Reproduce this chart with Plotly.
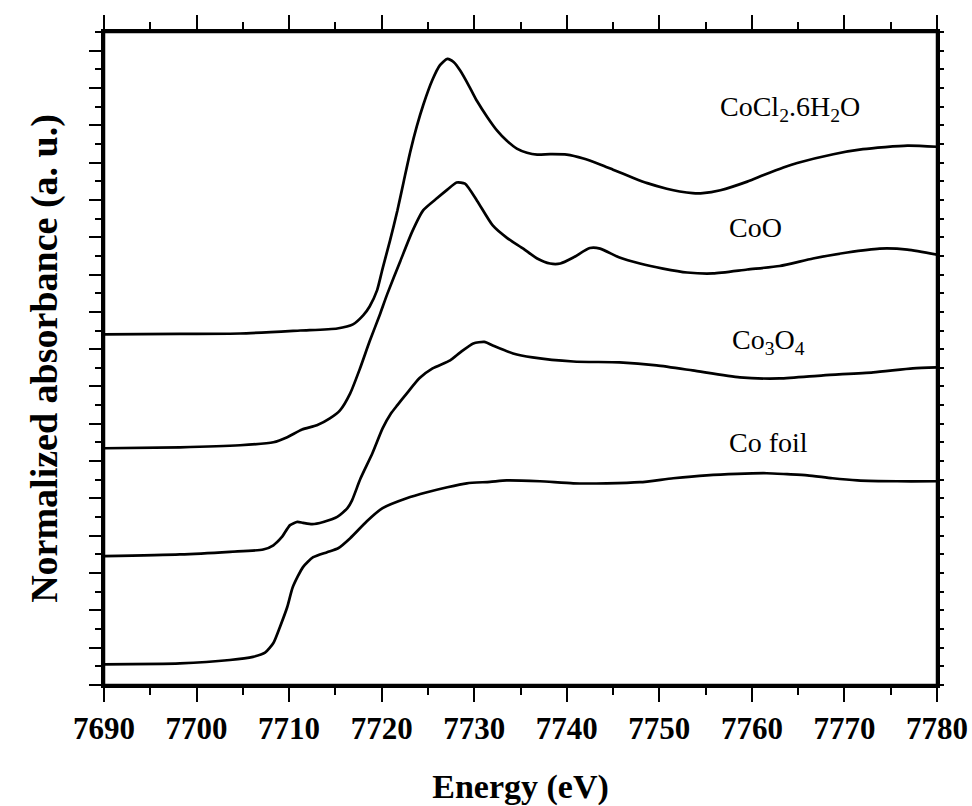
import plotly.graph_objects as go

# ---- data ----
co_foil_e = [7690.0, 7698.2, 7703.6, 7706.1, 7707.4, 7708.3, 7709.0, 7709.8, 7710.4, 7711.5,
             7712.6, 7714.1, 7715.3, 7716.6, 7718.4, 7720.1, 7722.7, 7724.9, 7727.1, 7729.2,
             7731.7, 7733.5, 7737.1, 7740.7, 7744.3, 7747.9, 7751.5, 7755.1, 7758.4, 7761.6,
             7763.8, 7766.0, 7768.7, 7771.4, 7775.7, 7780.0]
co_foil_a = [1.11, 1.16, 1.34, 1.51, 1.73, 2.25, 3.10, 4.18, 5.25, 6.32,
             6.85, 7.12, 7.33, 7.87, 8.78, 9.48, 10.01, 10.33, 10.60, 10.81,
             10.89, 10.97, 10.92, 10.81, 10.81, 10.87, 11.08, 11.24, 11.32, 11.35,
             11.30, 11.24, 11.08, 10.97, 10.92, 10.92]

co3o4_e = [7690.0, 7698.2, 7703.6, 7707.2, 7708.3, 7709.2, 7710.1, 7710.9, 7711.5, 7712.5,
           7713.7, 7715.2, 7716.3, 7716.8, 7717.7, 7719.0, 7720.1, 7721.0, 7721.7, 7722.7,
           7724.1, 7725.5, 7727.4, 7728.5, 7729.9, 7731.1, 7732.0, 7734.2, 7736.3, 7740.7,
           7745.7, 7749.7, 7753.6, 7758.7, 7763.0, 7767.7, 7773.1, 7777.4, 7780.0]
co3o4_a = [6.91, 7.00, 7.14, 7.26, 7.49, 7.92, 8.57, 8.74, 8.69, 8.62,
           8.74, 9.01, 9.48, 9.90, 11.05, 12.42, 13.75, 14.55, 15.00, 15.62,
           16.45, 16.97, 17.40, 17.83, 18.31, 18.39, 18.20, 17.77, 17.56, 17.34,
           17.29, 17.13, 16.86, 16.49, 16.43, 16.60, 16.76, 16.97, 17.02]

coo_e = [7690.0, 7698.2, 7704.7, 7708.3, 7709.8, 7711.4, 7713.0, 7714.4, 7715.5, 7716.6,
         7717.7, 7718.7, 7719.8, 7720.6, 7722.0, 7723.3, 7724.5, 7726.0, 7727.1, 7728.1,
         7729.0, 7730.3, 7732.0, 7733.5, 7735.3, 7736.8, 7738.2, 7739.3, 7740.7, 7742.5,
         7743.6, 7745.7, 7747.9, 7750.4, 7753.0, 7755.8, 7759.5, 7763.0, 7766.6, 7770.3,
         7773.8, 7776.8, 7780.0]
coo_a = [12.69, 12.74, 12.85, 13.01, 13.28, 13.70, 13.92, 14.29, 14.72, 15.63,
         17.02, 18.42, 19.85, 20.95, 22.70, 24.30, 25.45, 26.10, 26.55, 26.93,
         26.87, 25.96, 24.63, 23.98, 23.39, 22.86, 22.59, 22.59, 22.91, 23.42,
         23.39, 22.91, 22.59, 22.32, 22.11, 22.06, 22.27, 22.46, 22.86, 23.18,
         23.39, 23.34, 23.07]

cocl2_e = [7690.0, 7698.2, 7704.7, 7711.2, 7715.2, 7716.9, 7718.0, 7718.7, 7719.5, 7720.1,
           7720.9, 7721.7, 7722.4, 7723.1, 7723.8, 7724.5, 7725.5, 7726.3, 7727.1,
           7727.8, 7728.5, 7729.5, 7730.3, 7731.4, 7732.5, 7733.5, 7734.6, 7735.7, 7736.8,
           7738.2, 7740.0, 7741.8, 7743.6, 7745.0, 7747.2, 7748.7, 7750.8, 7752.2, 7753.6,
           7754.7, 7756.6, 7759.5, 7761.2, 7763.4, 7764.9, 7768.8, 7772.0, 7776.8, 7780.0]
cocl2_a = [18.79, 18.82, 18.84, 19.00, 19.11, 19.33, 19.81, 20.29, 21.15, 22.32,
           23.82, 25.43, 27.03, 28.60, 29.95, 31.10, 32.45, 33.22, 33.56,
           33.38, 32.92, 32.05, 31.30, 30.45, 29.70, 29.18, 28.75, 28.53, 28.43,
           28.45, 28.43, 28.22, 27.90, 27.62, 27.18, 26.90, 26.60, 26.45, 26.36,
           26.36, 26.52, 26.98, 27.32, 27.74, 27.98, 28.45, 28.72, 28.91, 28.85]

series_names = ["Co foil", "Co<sub>3</sub>O<sub>4</sub>", "CoO", "CoCl<sub>2</sub>.6H<sub>2</sub>O"]
series_e = [co_foil_e, co3o4_e, coo_e, cocl2_e]
series_a = [co_foil_a, co3o4_a, coo_a, cocl2_a]

# label anchor positions (energy, absorbance)
label_e = [7757.3, 7757.6, 7757.3, 7756.3]
label_a = [13.0, 18.4, 24.5, 30.9]

x_range = [7690, 7780]
y_range = [0, 35]

SERIF = "Liberation Serif, Times New Roman, serif"

fig = go.Figure()
for e, a, n in zip(series_e, series_a, series_names):
    fig.add_trace(go.Scatter(x=e, y=a, mode="lines", name=n, showlegend=False,
                             line=dict(color="black", width=2.7, shape="spline", smoothing=0.6)))

# empty trace to activate the mirrored top/right axes
fig.add_trace(go.Scatter(x=[], y=[], xaxis="x2", yaxis="y2", showlegend=False, hoverinfo="skip"))

for e, a, n in zip(label_e, label_a, series_names):
    fig.add_annotation(x=e, y=a, text=n, showarrow=False, xanchor="left", yanchor="middle",
                       font=dict(family=SERIF, size=28, color="black"))

# frame around the plotting area
fig.add_shape(type="rect", xref="x domain", yref="y domain", x0=0, x1=1, y0=0, y1=1,
              line=dict(color="black", width=2.5), layer="above")

common_x = dict(range=x_range, showgrid=False, zeroline=False, showline=True, mirror=True,
                automargin=False, linecolor="black", linewidth=2.5,
                ticks="outside", ticklen=14, tickwidth=2, tickcolor="black", dtick=10, tick0=7690,
                minor=dict(ticks="outside", ticklen=7, tickwidth=2, tickcolor="black", dtick=5))
common_y = dict(range=y_range, showgrid=False, zeroline=False, showline=True, mirror=True,
                automargin=False, linecolor="black", linewidth=2.5,
                showticklabels=False, tickcolor="black", tickwidth=2, tick0=0)

fig.update_layout(
    width=972, height=806,
    margin=dict(l=104, r=35, t=32, b=121, autoexpand=False),
    paper_bgcolor="white", plot_bgcolor="white",
    xaxis=dict(**common_x,
               tickfont=dict(family=SERIF, size=31, color="black", weight=700),
               title=dict(text="Energy (eV)", standoff=36,
                          font=dict(family=SERIF, size=34, color="black", weight=700))),
    xaxis2=dict(**common_x, overlaying="x", side="top", anchor="y", showticklabels=False),
    yaxis=dict(**common_y, ticks="outside", ticklen=12, dtick=2,
               minor=dict(ticks="outside", ticklen=6, tickwidth=2, tickcolor="black", dtick=1),
               title=dict(text="Normalized absorbance (a. u.)", standoff=20,
                          font=dict(family=SERIF, size=38, color="black", weight=700))),
    yaxis2=dict(**common_y, overlaying="y", side="right", anchor="x", ticks="outside", ticklen=4, dtick=1),
)

fig.write_html("out.html")
